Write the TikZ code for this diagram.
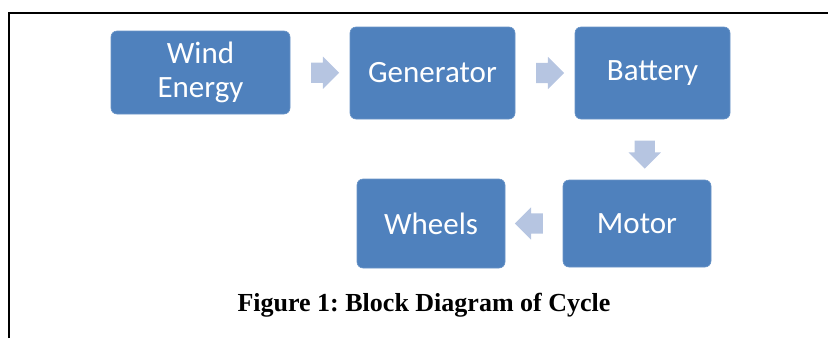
\documentclass[tikz,border=0pt]{standalone}
\usepackage{fontspec}
\setmainfont{Liberation Serif}
\newfontfamily\blockfont{Carlito}
\usetikzlibrary{shapes.arrows,calc}
\definecolor{blockblue}{RGB}{79,129,189}
\definecolor{arrowblue}{RGB}{182,197,225}
\frenchspacing

\begin{document}
\begin{tikzpicture}[x=1pt,y=-1pt,
		block/.style={fill=blockblue,draw=blockblue!85!white,line width=0.6pt,rounded corners=6pt,text=white,font=\blockfont\fontsize{31}{34}\selectfont,align=center,inner sep=0pt},
		flow/.style={single arrow,fill=arrowblue,draw=none,minimum height=28pt,single arrow head extend=6pt,inner xsep=0pt,inner ysep=10pt}]
		\useasboundingbox (0,0) rectangle (828,338);
		\draw[line width=2pt] (9,338)--(9,13)--(828,13);
		\node[block,minimum width=179pt,minimum height=83pt] (wind) at (200.5,72.5) {Wind\\Energy};
		\node[block,minimum width=165pt,minimum height=92pt] (gen) at (432.5,73) {Generator};
		\node[block,minimum width=155pt,minimum height=92pt] (batt) at (652.5,73) {Battery};
		\node[block,minimum width=148pt,minimum height=87pt] (motor) at (637,223.5) {Motor};
		\node[block,minimum width=148pt,minimum height=89pt] (wheels) at (431,223.5) {Wheels};
		\node[flow] (a1) at ($(wind.east)!0.5!(gen.west)$) {};
		\node[flow] (a2) at ($(gen.east)!0.5!(batt.west)$) {};
		\node[flow,shape border rotate=265,inner xsep=10pt,inner ysep=0pt] (a3) at ($(batt.south)!0.5!(motor.north)$) {};
		\node[flow,shape border rotate=180] (a4) at ($(motor.west)!0.5!(wheels.east)$) {};
		\node[font=\bfseries\fontsize{26}{30}\selectfont,anchor=base] (caption) at (424,311) {Figure 1: Block Diagram of Cycle};
\end{tikzpicture}
\end{document}
